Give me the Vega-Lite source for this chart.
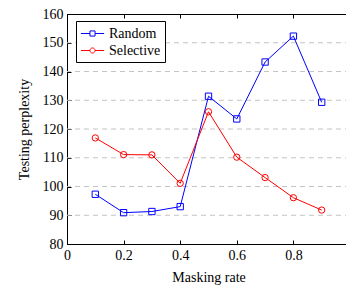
{
  "$schema": "https://vega.github.io/schema/vega-lite/v6.json",
  "autosize": "none",
  "width": 283,
  "height": 230,
  "padding": {"left": 67, "top": 14, "right": 0, "bottom": 41},
  "background": "white",
  "config": {
    "font": "serif",
    "view": {"stroke": "black", "strokeWidth": 1},
    "axis": {
      "labelFont": "serif",
      "titleFont": "serif",
      "labelFontSize": 14,
      "titleFontSize": 14,
      "titleFontWeight": "normal",
      "labelColor": "black",
      "titleColor": "black",
      "domainColor": "black",
      "tickColor": "black",
      "tickSize": -4,
      "grid": false
    },
    "legend": {"labelFont": "serif"}
  },
  "resolve": {"axis": {"x": "independent", "y": "independent"}},
  "data": {
    "values": [
      {"rate": 0.1, "ppl": 97.3, "method": "Random"},
      {"rate": 0.2, "ppl": 90.9, "method": "Random"},
      {"rate": 0.3, "ppl": 91.3, "method": "Random"},
      {"rate": 0.4, "ppl": 93.0, "method": "Random"},
      {"rate": 0.5, "ppl": 131.4, "method": "Random"},
      {"rate": 0.6, "ppl": 123.5, "method": "Random"},
      {"rate": 0.7, "ppl": 143.3, "method": "Random"},
      {"rate": 0.8, "ppl": 152.3, "method": "Random"},
      {"rate": 0.9, "ppl": 129.3, "method": "Random"},
      {"rate": 0.1, "ppl": 116.9, "method": "Selective"},
      {"rate": 0.2, "ppl": 111.1, "method": "Selective"},
      {"rate": 0.3, "ppl": 111.0, "method": "Selective"},
      {"rate": 0.4, "ppl": 101.1, "method": "Selective"},
      {"rate": 0.5, "ppl": 126.0, "method": "Selective"},
      {"rate": 0.6, "ppl": 110.2, "method": "Selective"},
      {"rate": 0.7, "ppl": 103.1, "method": "Selective"},
      {"rate": 0.8, "ppl": 96.1, "method": "Selective"},
      {"rate": 0.9, "ppl": 91.8, "method": "Selective"}
    ]
  },
  "layer": [
    {
      "mark": {"type": "rule", "stroke": "#c4c4c4", "strokeDash": [5, 4], "strokeWidth": 1},
      "data": {"values": [{"g": 90}, {"g": 100}, {"g": 110}, {"g": 120}, {"g": 130}, {"g": 140}, {"g": 150}]},
      "encoding": {
        "y": {
          "field": "g", "type": "quantitative",
          "scale": {"domain": [80, 160], "nice": false, "zero": false},
          "axis": {"title": "Testing perplexity", "values": [80, 90, 100, 110, 120, 130, 140, 150, 160], "labelPadding": 8, "titlePadding": 11}
        }
      }
    },
    {
      "mark": {"type": "line", "strokeWidth": 1},
      "encoding": {
        "x": {
          "field": "rate", "type": "quantitative",
          "scale": {"domain": [0, 1], "nice": false, "zero": false},
          "axis": {"title": "Masking rate", "values": [0, 0.2, 0.4, 0.6, 0.8, 1], "format": "~g", "labelPadding": 8, "titlePadding": 8, "labelFlush": false}
        },
        "y": {
          "field": "ppl", "type": "quantitative",
          "axis": {"orient": "right", "labels": false, "title": null, "values": [80, 90, 100, 110, 120, 130, 140, 150, 160], "domain": false}
        },
        "color": {
          "field": "method", "type": "nominal",
          "scale": {"domain": ["Random", "Selective"], "range": ["#0000ff", "#ff0000"]},
          "legend": {
            "title": null,
            "orient": "none",
            "legendX": 9,
            "legendY": 7,
            "fillColor": "white",
            "strokeColor": "black",
            "padding": 4,
            "rowPadding": 1,
            "labelFont": "serif",
            "labelFontSize": 14,
            "labelColor": "black",
            "symbolSize": 256,
            "symbolOffset": 4,
            "symbolStrokeWidth": 1,
            "symbolFillColor": "transparent",
            "labelOffset": 8,
            "encode": {
              "symbols": {
                "update": {
                  "shape": [
                    {"test": "datum.value === 'Random'", "value": "M-1.45,0H-0.32M0.32,0H1.45M-0.32,-0.32H0.32V0.32H-0.32Z"},
                    {"value": "M-1.45,0H-0.32M0.32,0H1.45M0.32,0A0.32,0.32 0 1,1 -0.32,0A0.32,0.32 0 1,1 0.32,0Z"}
                  ],
                  "fill": {"value": "transparent"}
                }
              }
            }
          }
        }
      }
    },
    {
      "mark": {"type": "point", "filled": false, "strokeWidth": 1, "opacity": 1},
      "encoding": {
        "x": {
          "field": "rate", "type": "quantitative",
          "axis": {"orient": "top", "labels": false, "title": null, "values": [0, 0.2, 0.4, 0.6, 0.8, 1], "domain": false}
        },
        "y": {"field": "ppl", "type": "quantitative", "axis": null},
        "shape": {"condition": {"test": "datum.method === 'Random'", "value": "square"}, "value": "circle"},
        "size": {"value": 40},
        "color": {"field": "method", "type": "nominal", "legend": null}
      }
    }
  ]
}
